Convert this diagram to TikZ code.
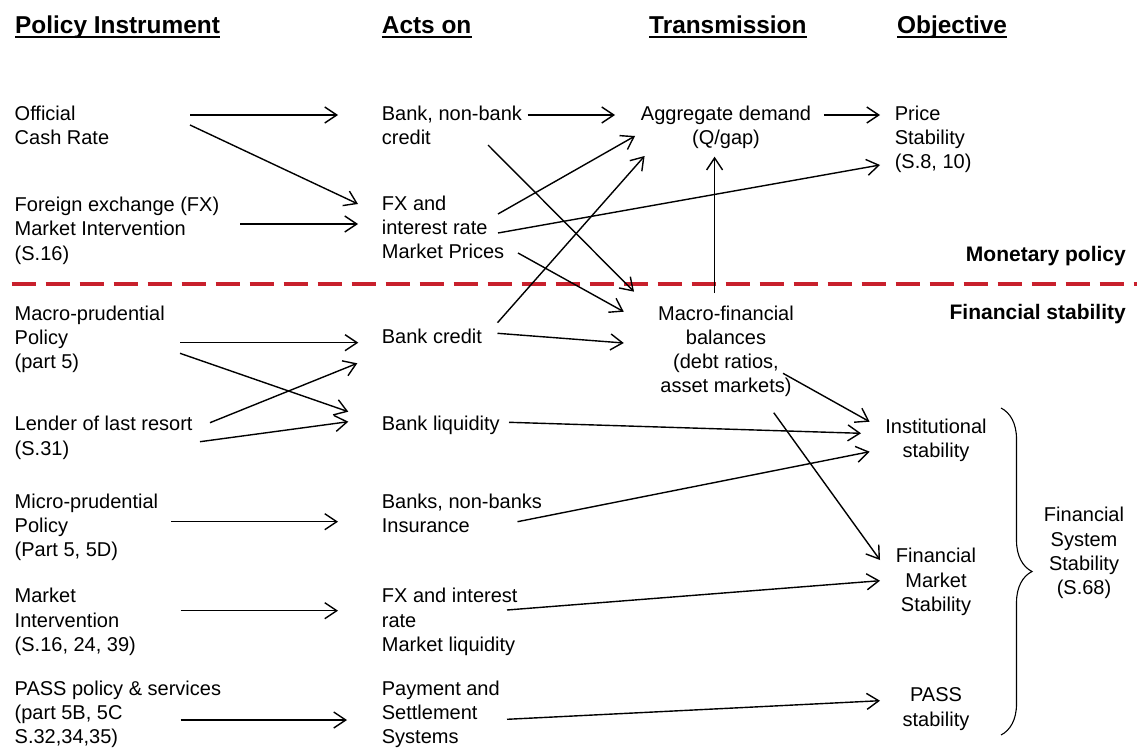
\documentclass[tikz,border=0pt]{standalone}
\usepackage{fontspec}
\setmainfont{Liberation Sans}
\usetikzlibrary{arrows.meta, decorations.pathreplacing}
\definecolor{dashred}{RGB}{200,32,44}

\begin{document}
\begin{tikzpicture}[x=1pt, y=-1pt,
    txt/.style={anchor=base west, align=left, inner sep=0pt, font=\fontsize{20}{24.3}\selectfont},
    ctxt/.style={txt, anchor=base, align=center},
    hdr/.style={anchor=base west, inner sep=0pt, font=\fontsize{24.4}{28}\selectfont\bfseries},
    side/.style={anchor=base east, inner sep=0pt, font=\fontsize{21}{25}\selectfont\bfseries},
    arr/.style={-{Straight Barb[length=12pt, width=16pt]}, line width=1.4pt}]
    \useasboundingbox (0,0) rectangle (1137,749);

    % Column headings
    \node[hdr] (hpol) at (15,33.5) {Policy Instrument};
    \node[hdr] (hact) at (381.7,33.5) {Acts on};
    \node[hdr] (htra) at (649,33.5) {Transmission};
    \node[hdr] (hobj) at (897,33.5) {Objective};
    \foreach \h in {hpol, hact, htra, hobj}
        \draw[line width=2.6pt] ([yshift=-3.5pt]\h.base west) -- ([yshift=-3.5pt]\h.base east);

    % Monetary policy / financial stability split
    \draw[dashred, line width=3.5pt, dash pattern=on 24pt off 10pt] (11.7,284) -- (1137,284);
    \node[side] (mon) at (1126,261.7) {Monetary policy};
    \node[side] (fin) at (1126,319.3) {Financial stability};

    % Column 1: policy instruments (y = baseline of last line)
    \node[txt] (ocr) at (14.5,144.3) {Official\\Cash Rate};
    \node[txt] (fxi) at (14.5,260.1) {Foreign exchange (FX)\\Market Intervention\\(S.16)};
    \node[txt] (macro) at (14.5,368.6) {Macro-prudential\\Policy\\(part 5)};
    \node[txt] (lolr) at (14.5,455) {Lender of last resort\\(S.31)};
    \node[txt] (micro) at (14.5,556.9) {Micro-prudential\\Policy\\(Part 5, 5D)};
    \node[txt] (mint) at (14.5,651.3) {Market\\Intervention\\(S.16, 24, 39)};
    \node[txt] (pass) at (14.5,743.6) {PASS policy \& services\\(part 5B, 5C\\S.32,34,35)};

    % Column 2: acts on
    \node[txt] (bnb) at (381.7,144.8) {Bank, non-bank\\credit};
    \node[txt] (fxr) at (381.7,258.6) {FX and\\interest rate\\Market Prices};
    \node[txt] (bc) at (381.7,343) {Bank credit};
    \node[txt] (bl) at (381.7,430) {Bank liquidity};
    \node[txt] (bnbi) at (381.7,532.6) {Banks, non-banks\\Insurance};
    \node[txt] (fxl) at (381.7,651.3) {FX and interest\\rate\\Market liquidity};
    \node[txt] (pss) at (381.7,743.6) {Payment and\\Settlement\\Systems};

    % Column 3: transmission
    \node[ctxt] (ad) at (726,144.3) {Aggregate demand\\(Q/gap)};
    \node[ctxt] (mfb) at (726,392.9) {Macro-financial\\balances\\(debt ratios,\\asset markets)};

    % Column 4: objectives
    \node[txt] (ps) at (894.6,168.6) {Price\\Stability\\(S.8, 10)};
    \node[ctxt] (is) at (936,457.6) {Institutional\\stability};
    \node[ctxt] (fms) at (936,611.3) {Financial\\Market\\Stability};
    \node[ctxt] (pst) at (936,726) {PASS\\stability};
    \node[ctxt] (fss) at (1084,594.6) {Financial\\System\\Stability\\(S.68)};
    \draw[line width=1.1pt, decorate, decoration={brace, amplitude=31pt}] (1001,408) -- (1001,735);

    % Connector ends
    \coordinate (ocr-a) at (190,115);     \coordinate (ocr-b) at (190,125);
    \coordinate (fxi-a) at (240,224);
    \coordinate (macro-a) at (180,342.7); \coordinate (macro-b) at (180,353.3);
    \coordinate (lolr-a) at (210,422.7);  \coordinate (lolr-b) at (200,441.7);
    \coordinate (micro-a) at (171,521.7);
    \coordinate (mint-a) at (180.7,610.7);
    \coordinate (pass-a) at (180.7,720);
    \coordinate (bnb-in) at (338,115);    \coordinate (bnb-a) at (527.7,115);
    \coordinate (bnb-b) at (488,145);
    \coordinate (fxr-in1) at (358,204);   \coordinate (fxr-in2) at (358,224);
    \coordinate (fxr-a) at (498,214);     \coordinate (fxr-b) at (498,233);
    \coordinate (fxr-c) at (518,253);
    \coordinate (bc-in1) at (358.3,342.7); \coordinate (bc-in2) at (357.3,363.3);
    \coordinate (bc-a) at (497.5,322.7);  \coordinate (bc-b) at (497.5,333.3);
    \coordinate (bl-in1) at (348.3,411.7); \coordinate (bl-in2) at (348.3,421.7);
    \coordinate (bl-a) at (509,422.3);
    \coordinate (bnbi-in) at (338,521.7); \coordinate (bnbi-a) at (517.5,521.7);
    \coordinate (fxl-in) at (338,610.7);  \coordinate (fxl-a) at (507,610);
    \coordinate (pss-in) at (347,720);    \coordinate (pss-a) at (507,719.3);
    \coordinate (ad-in1) at (615,115);    \coordinate (ad-in2) at (635,136);
    \coordinate (ad-in3) at (644.6,156);  \coordinate (ad-in4) at (714.6,156.7);
    \coordinate (ad-a) at (823.8,115);
    \coordinate (mfb-in1) at (634,291.7); \coordinate (mfb-in2) at (623.75,311.7);
    \coordinate (mfb-in3) at (623.75,343);
    \coordinate (mfb-a) at (714.6,293);   \coordinate (mfb-b) at (783,373.3);
    \coordinate (mfb-c) at (773.75,412.7);
    \coordinate (ps-in1) at (880,115);    \coordinate (ps-in2) at (880,165);
    \coordinate (is-in1) at (869.6,421.7); \coordinate (is-in2) at (861,433.3);
    \coordinate (is-in3) at (869.6,451.7);
    \coordinate (fms-in1) at (880,560);   \coordinate (fms-in2) at (880,580.7);
    \coordinate (pst-in) at (880,700.7);

    % Instruments -> what they act on
    \draw[arr] (ocr-a) -- (bnb-in);
    \draw[arr] (ocr-b) -- (fxr-in1);
    \draw[arr] (fxi-a) -- (fxr-in2);
    \draw[arr] (macro-a) -- (bc-in1);
    \draw[arr] (macro-b) -- (bl-in1);
    \draw[arr] (lolr-a) -- (bc-in2);
    \draw[arr] (lolr-b) -- (bl-in2);
    \draw[arr] (micro-a) -- (bnbi-in);
    \draw[arr] (mint-a) -- (fxl-in);
    \draw[arr] (pass-a) -- (pss-in);

    % Acts on -> transmission
    \draw[arr] (bnb-a) -- (ad-in1);
    \draw[arr] (bnb-b) -- (mfb-in1);
    \draw[arr] (fxr-a) -- (ad-in2);
    \draw[arr] (fxr-c) -- (mfb-in2);
    \draw[arr] (bc-a) -- (ad-in3);
    \draw[arr] (bc-b) -- (mfb-in3);
    \draw[arr] (mfb-a) -- (ad-in4);

    % Transmission -> objectives
    \draw[arr] (ad-a) -- (ps-in1);
    \draw[arr] (fxr-b) -- (ps-in2);
    \draw[arr] (mfb-b) -- (is-in1);
    \draw[arr] (mfb-c) -- (fms-in1);
    \draw[arr] (bl-a) -- (is-in2);
    \draw[arr] (bnbi-a) -- (is-in3);
    \draw[arr] (fxl-a) -- (fms-in2);
    \draw[arr] (pss-a) -- (pst-in);
\end{tikzpicture}
\end{document}
